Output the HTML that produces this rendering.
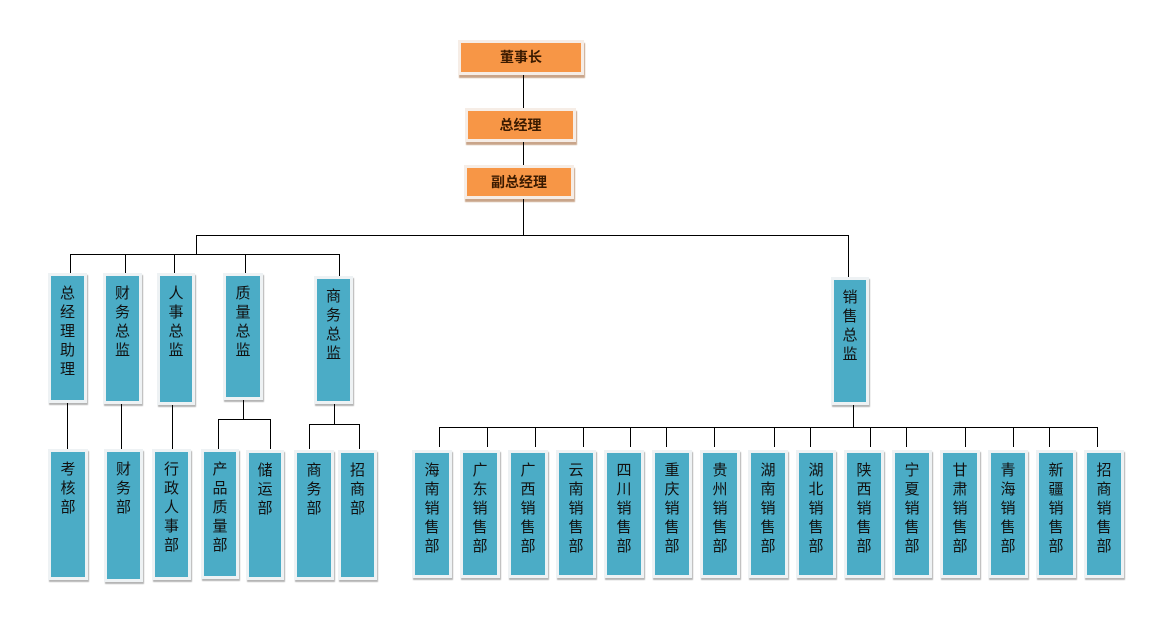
<!DOCTYPE html>
<html><head><meta charset="utf-8"><style>
body{margin:0;width:1156px;height:620px;background:#fff;position:relative;overflow:hidden;font-family:"Liberation Sans","Noto Sans CJK SC","WenQuanYi Zen Hei",sans-serif}
.b{position:absolute;box-sizing:border-box;background:#4bacc6;border:3px solid #eef2f4;box-shadow:1px 2px 1px #b5b5b5;color:#111;font-size:15px;line-height:19px;text-align:center;padding:8px 0 0 0;}
.b span{display:block;width:16px;margin:0 auto;word-break:break-all}
.o{position:absolute;box-sizing:border-box;background:#f79646;border:3px solid #f6ede6;box-shadow:1px 3px 1px #c9a58a;color:#3a1a00;font-weight:bold;font-size:14px;text-align:center}
.h{position:absolute;height:1px;background:#000}
.v{position:absolute;width:1px;background:#000}
</style></head><body>
<div class="o" style="left:458px;top:40px;width:126px;height:35px;line-height:29px">董事长</div>
<div class="o" style="left:465px;top:108px;width:111px;height:34px;line-height:28px">总经理</div>
<div class="o" style="left:464px;top:165px;width:110px;height:34px;line-height:28px">副总经理</div>
<div class="v" style="left:523px;top:75px;height:33px"></div>
<div class="v" style="left:523px;top:142px;height:23px"></div>
<div class="v" style="left:523px;top:199px;height:37px"></div>
<div class="h" style="left:196px;top:235px;width:653px"></div>
<div class="v" style="left:196px;top:235px;height:20px"></div>
<div class="h" style="left:70px;top:254px;width:270px"></div>
<div class="v" style="left:70px;top:254px;height:19px"></div>
<div class="v" style="left:125px;top:254px;height:19px"></div>
<div class="v" style="left:174px;top:254px;height:19px"></div>
<div class="v" style="left:245px;top:254px;height:19px"></div>
<div class="v" style="left:339px;top:254px;height:22px"></div>
<div class="v" style="left:848px;top:235px;height:42px"></div>

<div class="b" style="left:48px;top:273px;width:39px;height:130px"><span>总经理助理</span></div>
<div class="b" style="left:103px;top:273px;width:39px;height:131px"><span>财务总监</span></div>
<div class="b" style="left:157px;top:273px;width:38px;height:132px"><span>人事总监</span></div>
<div class="b" style="left:223px;top:273px;width:40px;height:127px"><span>质量总监</span></div>
<div class="b" style="left:314px;top:276px;width:39px;height:128px"><span>商务总监</span></div>
<div class="b" style="left:831px;top:277px;width:38px;height:128px"><span>销售总监</span></div>

<div class="v" style="left:67px;top:403px;height:46px"></div>
<div class="v" style="left:121px;top:404px;height:45px"></div>
<div class="v" style="left:172px;top:405px;height:44px"></div>
<div class="v" style="left:243px;top:400px;height:19px"></div>
<div class="h" style="left:218px;top:419px;width:53px"></div>
<div class="v" style="left:218px;top:419px;height:30px"></div>
<div class="v" style="left:270px;top:419px;height:30px"></div>
<div class="v" style="left:334px;top:404px;height:20px"></div>
<div class="h" style="left:309px;top:424px;width:51px"></div>
<div class="v" style="left:309px;top:424px;height:25px"></div>
<div class="v" style="left:359px;top:424px;height:25px"></div>

<div class="b" style="left:48px;top:449px;width:40px;height:131px"><span>考核部</span></div>
<div class="b" style="left:104px;top:449px;width:39px;height:133px"><span>财务部</span></div>
<div class="b" style="left:152px;top:449px;width:39px;height:131px"><span>行政人事部</span></div>
<div class="b" style="left:201px;top:449px;width:38px;height:130px"><span>产品质量部</span></div>
<div class="b" style="left:246px;top:450px;width:38px;height:130px"><span>储运部</span></div>
<div class="b" style="left:294px;top:450px;width:40px;height:130px"><span>商务部</span></div>
<div class="b" style="left:338px;top:450px;width:39px;height:130px"><span>招商部</span></div>

<div class="v" style="left:853px;top:405px;height:22px"></div>
<div class="h" style="left:439px;top:427px;width:659px"></div>
<div class="v" style="left:439px;top:427px;height:20px"></div>
<div class="v" style="left:487px;top:427px;height:20px"></div>
<div class="v" style="left:535px;top:427px;height:20px"></div>
<div class="v" style="left:583px;top:427px;height:20px"></div>
<div class="v" style="left:630px;top:427px;height:20px"></div>
<div class="v" style="left:666px;top:427px;height:20px"></div>
<div class="v" style="left:714px;top:427px;height:20px"></div>
<div class="v" style="left:774px;top:427px;height:20px"></div>
<div class="v" style="left:810px;top:427px;height:20px"></div>
<div class="v" style="left:870px;top:427px;height:20px"></div>
<div class="v" style="left:906px;top:427px;height:20px"></div>
<div class="v" style="left:965px;top:427px;height:20px"></div>
<div class="v" style="left:1013px;top:427px;height:20px"></div>
<div class="v" style="left:1049px;top:427px;height:20px"></div>
<div class="v" style="left:1097px;top:427px;height:20px"></div>

<div class="b" style="left:412px;top:450px;width:40px;height:128px"><span>海南销售部</span></div>
<div class="b" style="left:460px;top:450px;width:40px;height:128px"><span>广东销售部</span></div>
<div class="b" style="left:508px;top:450px;width:40px;height:128px"><span>广西销售部</span></div>
<div class="b" style="left:556px;top:450px;width:40px;height:128px"><span>云南销售部</span></div>
<div class="b" style="left:604px;top:450px;width:40px;height:128px"><span>四川销售部</span></div>
<div class="b" style="left:652px;top:450px;width:40px;height:128px"><span>重庆销售部</span></div>
<div class="b" style="left:700px;top:450px;width:40px;height:128px"><span>贵州销售部</span></div>
<div class="b" style="left:748px;top:450px;width:40px;height:128px"><span>湖南销售部</span></div>
<div class="b" style="left:796px;top:450px;width:40px;height:128px"><span>湖北销售部</span></div>
<div class="b" style="left:844px;top:450px;width:40px;height:128px"><span>陕西销售部</span></div>
<div class="b" style="left:892px;top:450px;width:40px;height:128px"><span>宁夏销售部</span></div>
<div class="b" style="left:940px;top:450px;width:40px;height:128px"><span>甘肃销售部</span></div>
<div class="b" style="left:988px;top:450px;width:40px;height:128px"><span>青海销售部</span></div>
<div class="b" style="left:1036px;top:450px;width:40px;height:128px"><span>新疆销售部</span></div>
<div class="b" style="left:1084px;top:450px;width:40px;height:128px"><span>招商销售部</span></div>
</body></html>
